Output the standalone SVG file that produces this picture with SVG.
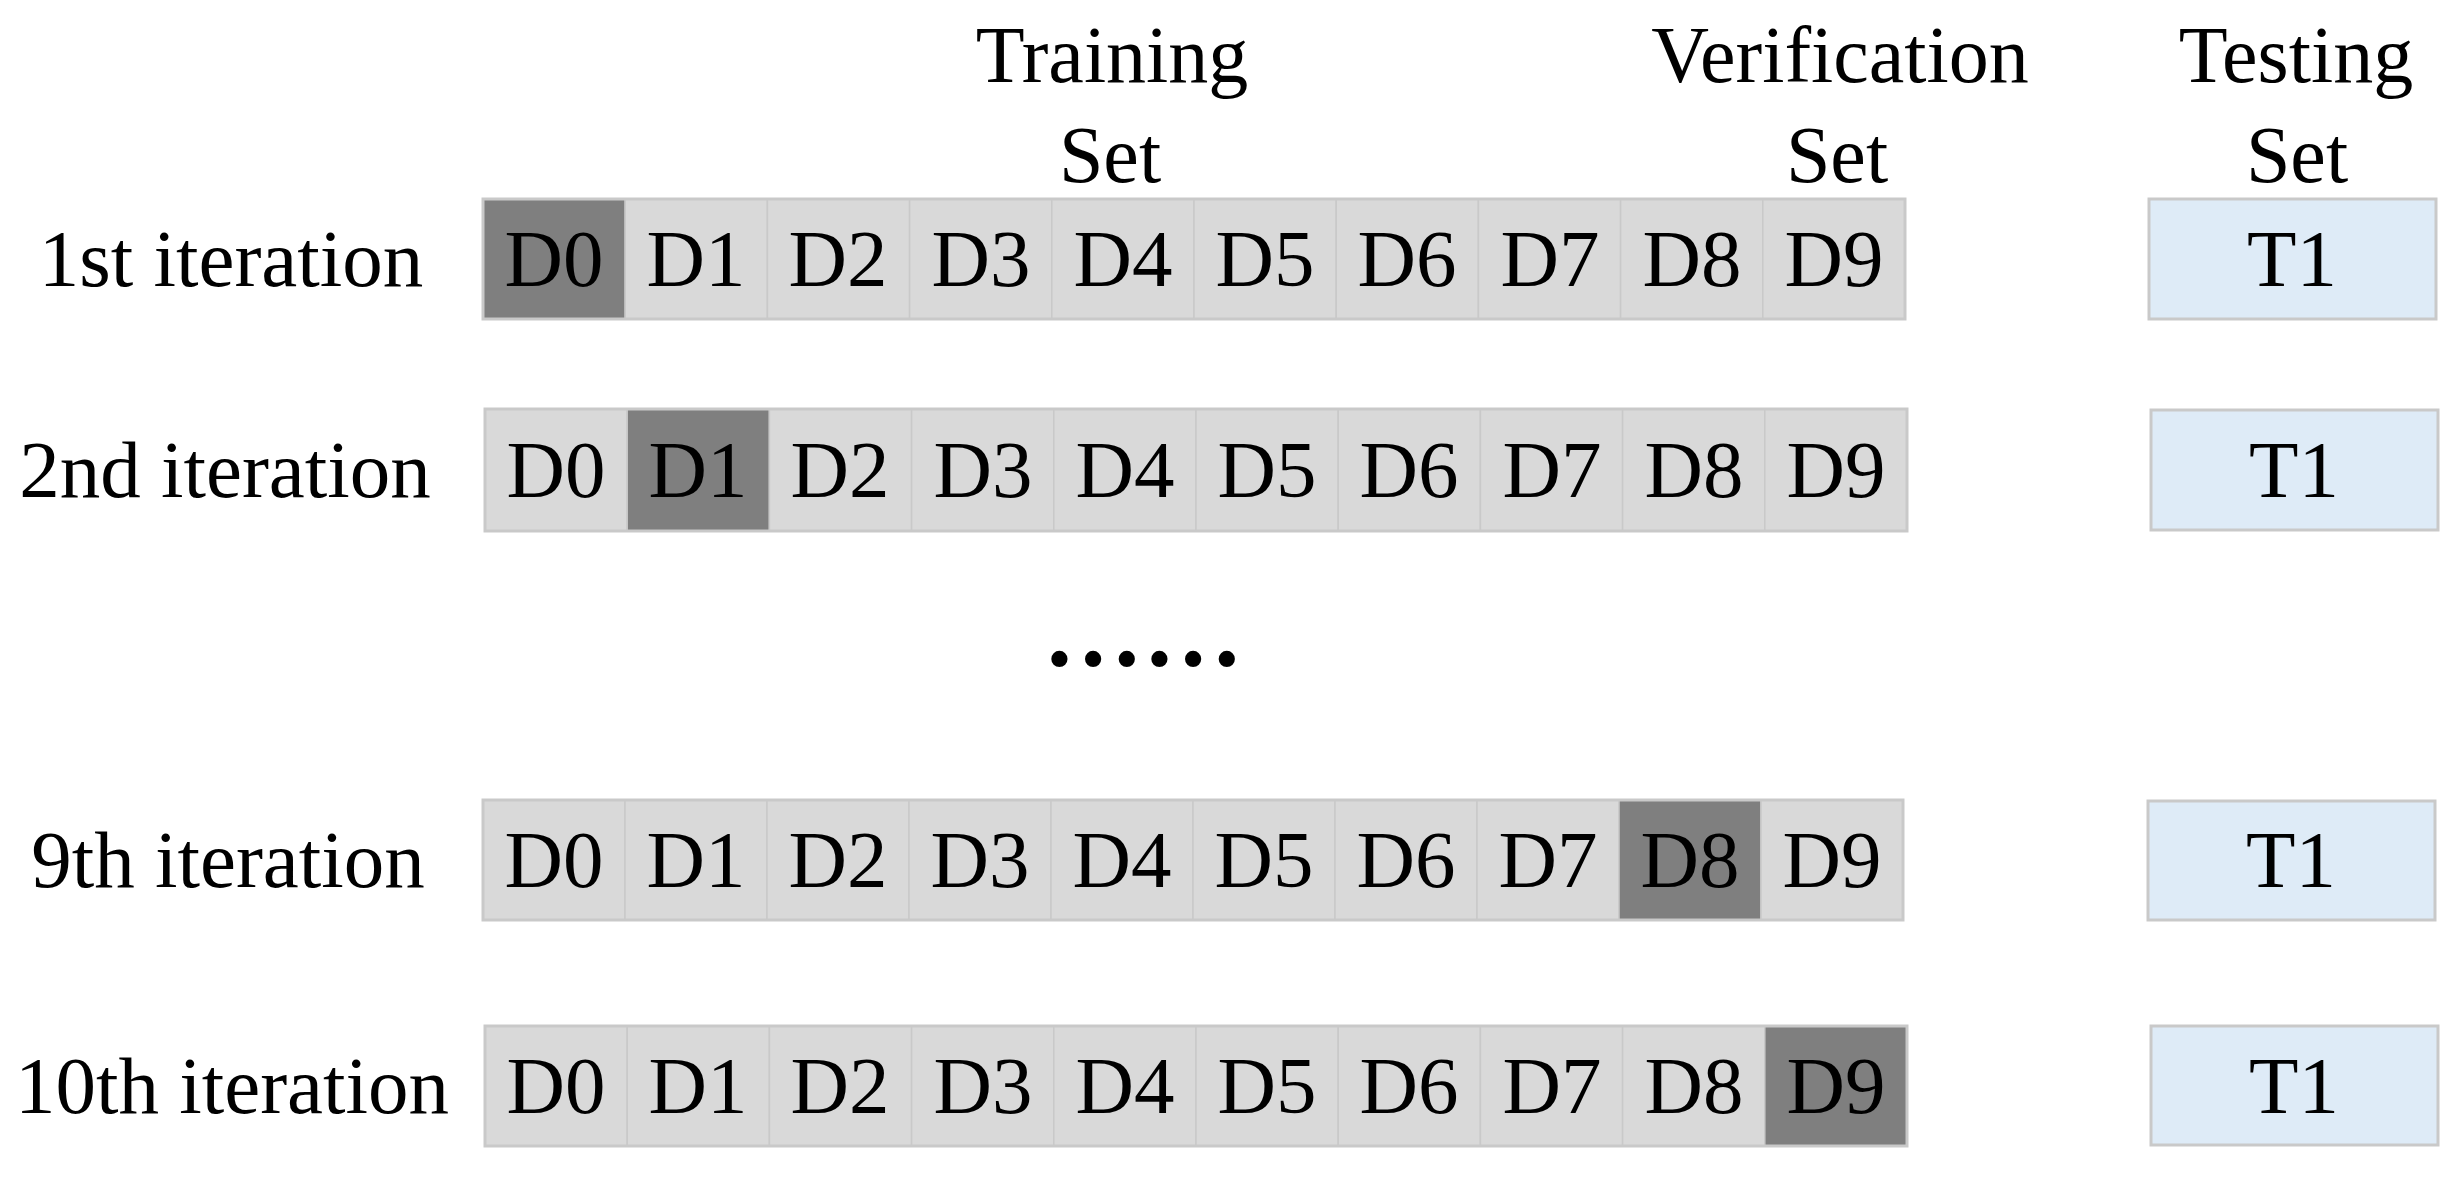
<svg xmlns="http://www.w3.org/2000/svg" width="2462" height="1182" viewBox="0 0 2462 1182">
<style>
text{font-family:"Liberation Serif","Times New Roman",serif;fill:#000;text-anchor:middle}
.t{font-size:81px}
.h{font-size:80px}
.c{fill:#d9d9d9;stroke:#c9c9c9;stroke-width:1.5}
.d{fill:#7f7f7f;stroke:#c9c9c9;stroke-width:1.5}
.o{fill:none;stroke:#c9c9c9;stroke-width:3}
.b{fill:#deebf7;stroke:#c9c9c9;stroke-width:3}
</style>
<rect width="2462" height="1182" fill="#fff"/>
<g id="headers">
<text class="h" x="1112" y="82">Training</text>
<text class="h" x="1110" y="182">Set</text>
<text class="h" x="1840" y="82">Verification</text>
<text class="h" x="1837" y="182">Set</text>
<text class="h" x="2296" y="82">Testing</text>
<text class="h" x="2297" y="182">Set</text>
</g>
<g id="row1">
<text class="t" x="231" y="286">1st iteration</text>
<rect class="d" x="483" y="199" width="142.2" height="120"/>
<rect class="c" x="625.2" y="199" width="142.2" height="120"/>
<rect class="c" x="767.4" y="199" width="142.2" height="120"/>
<rect class="c" x="909.6" y="199" width="142.2" height="120"/>
<rect class="c" x="1051.8" y="199" width="142.2" height="120"/>
<rect class="c" x="1194" y="199" width="142.2" height="120"/>
<rect class="c" x="1336.2" y="199" width="142.2" height="120"/>
<rect class="c" x="1478.4" y="199" width="142.2" height="120"/>
<rect class="c" x="1620.6" y="199" width="142.2" height="120"/>
<rect class="c" x="1762.8" y="199" width="142.2" height="120"/>
<rect class="o" x="483" y="199" width="1422" height="120"/>
<text class="t" x="554" y="286">D0</text>
<text class="t" x="696" y="286">D1</text>
<text class="t" x="838" y="286">D2</text>
<text class="t" x="981" y="286">D3</text>
<text class="t" x="1123" y="286">D4</text>
<text class="t" x="1265" y="286">D5</text>
<text class="t" x="1407" y="286">D6</text>
<text class="t" x="1550" y="286">D7</text>
<text class="t" x="1692" y="286">D8</text>
<text class="t" x="1834" y="286">D9</text>
</g>
<g id="test1">
<rect class="b" x="2149" y="199" width="287" height="120"/>
<text class="t" x="2292" y="286">T1</text>
</g>
<g id="row2">
<text class="t" x="225" y="497">2nd iteration</text>
<rect class="c" x="485" y="409" width="142.2" height="122"/>
<rect class="d" x="627.2" y="409" width="142.2" height="122"/>
<rect class="c" x="769.4" y="409" width="142.2" height="122"/>
<rect class="c" x="911.6" y="409" width="142.2" height="122"/>
<rect class="c" x="1053.8" y="409" width="142.2" height="122"/>
<rect class="c" x="1196" y="409" width="142.2" height="122"/>
<rect class="c" x="1338.2" y="409" width="142.2" height="122"/>
<rect class="c" x="1480.4" y="409" width="142.2" height="122"/>
<rect class="c" x="1622.6" y="409" width="142.2" height="122"/>
<rect class="c" x="1764.8" y="409" width="142.2" height="122"/>
<rect class="o" x="485" y="409" width="1422" height="122"/>
<text class="t" x="556" y="497">D0</text>
<text class="t" x="698" y="497">D1</text>
<text class="t" x="840" y="497">D2</text>
<text class="t" x="983" y="497">D3</text>
<text class="t" x="1125" y="497">D4</text>
<text class="t" x="1267" y="497">D5</text>
<text class="t" x="1409" y="497">D6</text>
<text class="t" x="1552" y="497">D7</text>
<text class="t" x="1694" y="497">D8</text>
<text class="t" x="1836" y="497">D9</text>
</g>
<g id="test2">
<rect class="b" x="2151" y="410" width="287" height="120"/>
<text class="t" x="2294" y="497">T1</text>
</g>
<g id="ellipsis">
<text x="1143" y="666" style="font-size:100px;font-weight:bold">……</text>
</g>
<g id="row9">
<text class="t" x="228" y="887">9th iteration</text>
<rect class="c" x="483" y="800" width="142" height="120"/>
<rect class="c" x="625" y="800" width="142" height="120"/>
<rect class="c" x="767" y="800" width="142" height="120"/>
<rect class="c" x="909" y="800" width="142" height="120"/>
<rect class="c" x="1051" y="800" width="142" height="120"/>
<rect class="c" x="1193" y="800" width="142" height="120"/>
<rect class="c" x="1335" y="800" width="142" height="120"/>
<rect class="c" x="1477" y="800" width="142" height="120"/>
<rect class="d" x="1619" y="800" width="142" height="120"/>
<rect class="c" x="1761" y="800" width="142" height="120"/>
<rect class="o" x="483" y="800" width="1420" height="120"/>
<text class="t" x="554" y="887">D0</text>
<text class="t" x="696" y="887">D1</text>
<text class="t" x="838" y="887">D2</text>
<text class="t" x="980" y="887">D3</text>
<text class="t" x="1122" y="887">D4</text>
<text class="t" x="1264" y="887">D5</text>
<text class="t" x="1406" y="887">D6</text>
<text class="t" x="1548" y="887">D7</text>
<text class="t" x="1690" y="887">D8</text>
<text class="t" x="1832" y="887">D9</text>
</g>
<g id="test9">
<rect class="b" x="2148" y="801" width="287" height="119"/>
<text class="t" x="2291" y="887">T1</text>
</g>
<g id="row10">
<text class="t" x="232" y="1113">10th iteration</text>
<rect class="c" x="485" y="1026" width="142.2" height="120"/>
<rect class="c" x="627.2" y="1026" width="142.2" height="120"/>
<rect class="c" x="769.4" y="1026" width="142.2" height="120"/>
<rect class="c" x="911.6" y="1026" width="142.2" height="120"/>
<rect class="c" x="1053.8" y="1026" width="142.2" height="120"/>
<rect class="c" x="1196" y="1026" width="142.2" height="120"/>
<rect class="c" x="1338.2" y="1026" width="142.2" height="120"/>
<rect class="c" x="1480.4" y="1026" width="142.2" height="120"/>
<rect class="c" x="1622.6" y="1026" width="142.2" height="120"/>
<rect class="d" x="1764.8" y="1026" width="142.2" height="120"/>
<rect class="o" x="485" y="1026" width="1422" height="120"/>
<text class="t" x="556" y="1113">D0</text>
<text class="t" x="698" y="1113">D1</text>
<text class="t" x="840" y="1113">D2</text>
<text class="t" x="983" y="1113">D3</text>
<text class="t" x="1125" y="1113">D4</text>
<text class="t" x="1267" y="1113">D5</text>
<text class="t" x="1409" y="1113">D6</text>
<text class="t" x="1552" y="1113">D7</text>
<text class="t" x="1694" y="1113">D8</text>
<text class="t" x="1836" y="1113">D9</text>
</g>
<g id="test10">
<rect class="b" x="2151" y="1026" width="287" height="119"/>
<text class="t" x="2294" y="1113">T1</text>
</g>
<g id="connectors"/>
</svg>
